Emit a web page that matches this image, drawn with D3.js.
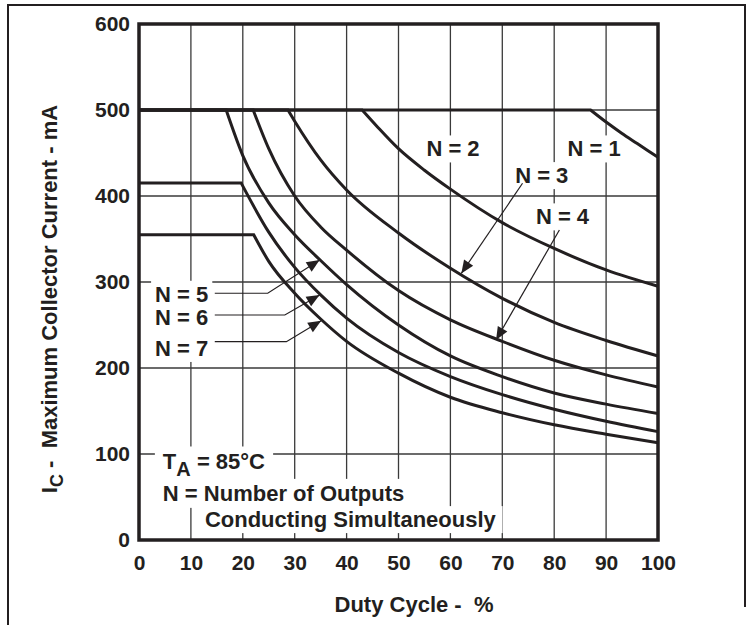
<!DOCTYPE html>
<html><head><meta charset="utf-8">
<script src="https://cdn.jsdelivr.net/npm/d3@7"></script>
<style>
body{margin:0;background:#fff}
text{font-family:"Liberation Sans",Arial,Helvetica,sans-serif;font-weight:bold;fill:#231f20}
</style>
</head><body>
<svg id="chart" width="756" height="625"></svg>
<script>
// ---- data ----
const xTicks = [0,10,20,30,40,50,60,70,80,90,100];
const yTicks = [0,100,200,300,400,500,600];
const seriesNames = ["N = 1","N = 2","N = 3","N = 4","N = 5","N = 6","N = 7"];

const n1Duty    = [0, 87, 90, 93, 96, 100];
const n1Current = [500, 500, 486, 473, 461, 445];
const n2Duty    = [0, 43, 46, 50, 55, 60, 70, 80, 90, 100];
const n2Current = [500, 500, 480, 455, 430, 408, 369, 339, 314, 295];
const n3Duty    = [0, 28.7, 30, 35, 40, 50, 60, 70, 80, 90, 100];
const n3Current = [500, 500, 487, 442, 407, 357, 316, 281, 253, 232, 214];
const n4Duty    = [0, 22, 25, 30, 35, 40, 50, 60, 70, 80, 90, 100];
const n4Current = [500, 500, 455, 400, 364, 337, 290, 256, 231, 209, 192, 178];
const n5Duty    = [0, 16.8, 20, 25, 30, 35, 40, 50, 60, 70, 80, 90, 100];
const n5Current = [500, 500, 447, 392, 355, 325, 297, 250, 214, 190, 171, 158, 147];
const n6Duty    = [0, 19.7, 25, 30, 35, 40, 50, 60, 70, 80, 90, 100];
const n6Current = [415, 415, 358, 317, 285, 258, 218, 190, 169, 152, 138, 126];
const n7Duty    = [0, 22.1, 25, 30, 35, 40, 50, 60, 70, 80, 90, 100];
const n7Current = [355, 355, 324, 287, 257, 231, 194, 166, 148, 134, 123, 113];

const allDuty = [n1Duty,n2Duty,n3Duty,n4Duty,n5Duty,n6Duty,n7Duty];
const allCurrent = [n1Current,n2Current,n3Current,n4Current,n5Current,n6Current,n7Current];

// annotation anchors in data units (duty %, mA)
const curveLabelPos = [[87.7,446],[60.5,446],[77.6,415],[81.6,367],[3.1,277],[3.1,250],[3.1,214]];
const leaderN3 = [[73.9,414.8],[62.1,310]];
const leaderN4 = [[81.0,360.5],[68.8,232.6]];
const leaderN5 = [[14.6,286.9],[24.8,286.9],[34.8,325.6]];
const leaderN6 = [[14.6,261.6],[28.1,261.6],[34.8,284.9]];
const leaderN7 = [[14.6,230.6],[28.4,230.6],[35.1,255]];
const noteLines = ["N = Number of Outputs","Conducting Simultaneously"];

// ---- drawing ----
const svg = d3.select("#chart");
const ink = "#231f20";
const FS = 22;
const x = d3.scaleLinear().domain([0,100]).range([139,658]);
const y = d3.scaleLinear().domain([0,600]).range([540,24]);

// outer frame
svg.append("path").attr("d","M8,625V5H745V607").attr("fill","none").attr("stroke",ink).attr("stroke-width",2);

// grid
const grid = svg.append("g").attr("stroke","#3a3a3a").attr("stroke-width",1.3);
grid.selectAll("line.v").data(xTicks.slice(1,-1)).join("line")
  .attr("x1",d=>x(d)).attr("x2",d=>x(d)).attr("y1",y(0)).attr("y2",y(600));
grid.selectAll("line.h").data(yTicks.slice(1,-1)).join("line")
  .attr("x1",x(0)).attr("x2",x(100)).attr("y1",d=>y(d)).attr("y2",d=>y(d));

const ann = svg.append("g");
const annBoxes = ann.append("g");
const annText = ann.append("g");
function addBox(t, padX, padY){
  const b = t.node().getBBox();
  annBoxes.append("rect").attr("x",b.x-padX).attr("y",b.y-padY+2).attr("width",b.width+2*padX).attr("height",b.height+2*padY-4).attr("fill","#fff");
}

// curve labels
seriesNames.forEach((nm,i)=>{
  const p = curveLabelPos[i];
  const t = annText.append("text").attr("x",x(p[0])).attr("y",y(p[1]))
    .attr("text-anchor", i>=4 ? "start" : "middle").attr("font-size",FS).text(nm);
  addBox(t,4,3);
});
// box behind the N=5..7 block
annBoxes.append("rect").attr("x",x(2)).attr("y",y(298)).attr("width",x(14)-x(2)).attr("height",y(208)-y(298)).attr("fill","#fff");

// T_A note
{
  const t = annText.append("text").attr("x",x(4.6)).attr("y",y(82)).attr("font-size",FS);
  t.append("tspan").text("T");
  t.append("tspan").attr("font-size",20).attr("dy",7).text("A");
  t.append("tspan").attr("dy",-7).text(" = 85°C");
  addBox(t,8,5);
  const t2 = annText.append("text").attr("x",x(4.6)).attr("y",y(45.5)).attr("font-size",FS).text(noteLines[0]);
  addBox(t2,6,4);
  const t3 = annText.append("text").attr("x",x(12.7)).attr("y",y(15)).attr("font-size",FS).text(noteLines[1]);
  addBox(t3,6,3);
}

// curves
const lin = d3.line().x(d=>x(d[0])).y(d=>y(d[1]));
const smooth = d3.line().x(d=>x(d[0])).y(d=>y(d[1])).curve(d3.curveMonotoneX);
const curves = svg.append("g").attr("fill","none").attr("stroke",ink).attr("stroke-width",3).attr("stroke-linejoin","miter");
allDuty.forEach((dArr,i)=>{
  const pts = dArr.map((d,j)=>[d, allCurrent[i][j]]);
  const a = lin(pts.slice(0,2));
  const b = smooth(pts.slice(1)).replace(/^M[^A-Za-z]*/,"");
  curves.append("path").attr("d", a + (b.startsWith("C")||b.startsWith("L") ? b : "L"+b));
});

// leaders with arrowheads
const leaders = svg.append("g");
function leader(pts){
  leaders.append("path").attr("d",lin(pts)).attr("fill","none").attr("stroke",ink).attr("stroke-width",1.2);
  const p1 = pts[pts.length-2], p2 = pts[pts.length-1];
  const x1=x(p1[0]), y1=y(p1[1]), x2=x(p2[0]), y2=y(p2[1]);
  const ang = Math.atan2(y2-y1,x2-x1);
  const L=13, Wd=5.5;
  const bx = x2-L*Math.cos(ang), by = y2-L*Math.sin(ang);
  const nx = -Math.sin(ang)*Wd, ny = Math.cos(ang)*Wd;
  leaders.append("path").attr("d",`M${x2},${y2}L${bx+nx},${by+ny}L${bx-nx},${by-ny}Z`).attr("fill",ink);
}
[leaderN3,leaderN4,leaderN5,leaderN6,leaderN7].forEach(leader);

// frame
svg.append("rect").attr("x",x(0)).attr("y",y(600)).attr("width",x(100)-x(0)).attr("height",y(0)-y(600))
  .attr("fill","none").attr("stroke",ink).attr("stroke-width",3.5);

// axes labels
const xa = svg.append("g").attr("transform",`translate(0,${y(0)})`)
  .call(d3.axisBottom(x).tickValues(xTicks).tickSize(0).tickPadding(15).tickFormat(d3.format("d")));
const ya = svg.append("g").attr("transform",`translate(${x(0)},0)`)
  .call(d3.axisLeft(y).tickValues(yTicks).tickSize(0).tickPadding(9).tickFormat(d3.format("d")));
[xa,ya].forEach(g=>{
  g.select(".domain").remove();
  g.selectAll("text").attr("font-size",21).attr("font-family",'"Liberation Sans",Arial,sans-serif').attr("font-weight","bold").attr("fill",ink);
  g.attr("font-size",null).attr("font-family",null);
});

// axis titles
svg.append("text").attr("x",414).attr("y",612).attr("text-anchor","middle").attr("font-size",FS).attr("xml:space","preserve").text("Duty Cycle -  %");
const yt = svg.append("text").attr("transform","translate(57,299) rotate(-90)").attr("text-anchor","middle").attr("font-size",FS);
yt.append("tspan").text("I");
yt.append("tspan").attr("font-size",18).attr("dy",6).text("C");
yt.append("tspan").attr("dy",-6).attr("xml:space","preserve").text(" -  Maximum Collector Current - mA");
</script>
</body></html>
